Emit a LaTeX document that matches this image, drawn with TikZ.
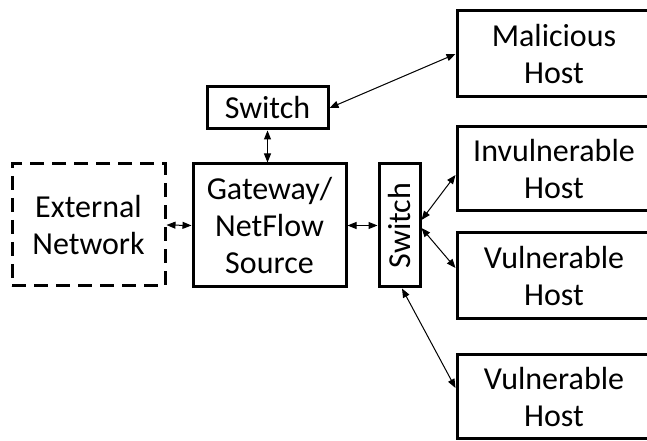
\documentclass[tikz,border=0pt]{standalone}
\usepackage{fontspec}
\setmainfont{Carlito}
\usetikzlibrary{arrows.meta}
\begin{document}
\begin{tikzpicture}[x=1pt,y=1pt,
  box/.style={draw,line width=3pt,align=center,inner sep=0pt,
    font=\fontsize{32}{37}\selectfont},
  dbox/.style={box,dash pattern=on 14pt off 8pt},
  link/.style={line width=1pt,{Triangle[length=9pt,width=7pt]}-{Triangle[length=9pt,width=7pt]}}]
\useasboundingbox (0,0) rectangle (647,441);
\node[dbox,minimum width=153pt,minimum height=122pt] (ext) at (88.5,216) {External\\Network};
\node[box,minimum width=153pt,minimum height=123pt] (gw) at (269.5,215.5) {Gateway/\\NetFlow\\Source};
\node[box,minimum width=121pt,minimum height=42pt] (sw1) at (267.5,333) {Switch};
\node[box,minimum width=41pt,minimum height=123pt] (sw2) at (399.5,215.5) {\rotatebox{90}{Switch}};
\node[box,minimum width=194pt,minimum height=86pt] (mal) at (554,387) {Malicious\\Host};
\node[box,minimum width=194pt,minimum height=84pt] (inv) at (554,272) {Invulnerable\\Host};
\node[box,minimum width=194pt,minimum height=86pt] (v1) at (554,165) {Vulnerable\\Host};
\node[box,minimum width=194pt,minimum height=84pt] (v2) at (554,44) {Vulnerable\\Host};
\draw[link] (ext.east) -- (gw.west);
\draw[link] (gw.east) -- (sw2.west);
\draw[link] (sw1.south) -- (sw1.south |- gw.north);
\draw[link] (sw1.east) -- (mal.west);
\draw[link] ([yshift=5.5pt]sw2.east) -- ([yshift=-6pt]inv.west);
\draw[link] ([yshift=-2.5pt]sw2.east) -- ([yshift=8pt]v1.west);
\draw[link] ([xshift=2.5pt]sw2.south) -- ([yshift=9pt]v2.west);
\end{tikzpicture}
\end{document}
